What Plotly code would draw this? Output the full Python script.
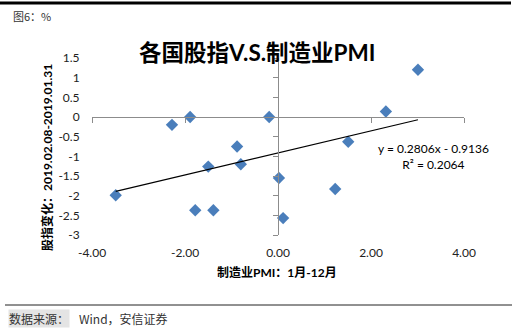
import plotly.graph_objects as go

# ---- data ----
pmi_change = [3.01, 2.32, -0.19, -1.89, -2.28, -0.88, -1.50, -0.80, -3.49, -1.78, -1.39, 0.02, 0.11, 1.23, 1.51]
index_change = [1.20, 0.14, 0.00, 0.00, -0.20, -0.75, -1.26, -1.20, -1.99, -2.37, -2.37, -1.55, -2.57, -1.83, -0.63]
slope = 0.2806
intercept = -0.9136
r_squared = 0.2064

x_tickvals = [-4, -2, 0, 2, 4]
x_ticktext = ["-4.00", "-2.00", "0.00", "2.00", "4.00"]
y_tickvals = [1.5, 1, 0.5, 0, -0.5, -1, -1.5, -2, -2.5, -3]
y_ticktext = ["1.5", "1", "0.5", "0", "-0.5", "-1", "-1.5", "-2", "-2.5", "-3"]

title_text = "各国股指V.S.制造业PMI"
x_title = "制造业PMI：1月-12月"
y_title = "股指变化：2019.02.08-2019.01.31"
fig_label = "图6：%"
source_label = "数据来源："
source_text = "Wind，安信证券"

X_RANGE = [-4, 4]
Y_RANGE = [-3, 1.5]

# ---- layout geometry (pixels) ----
W, H = 518, 329
L, R, T, B = 92, 54, 58, 94
PW, PH = W - L - R, H - T - B


def px_x(p):
    return (p - L) / PW


def px_y(p):
    return (H - B - p) / PH


FONT = "Lato, 'Noto Sans CJK SC', sans-serif"
CJK = "'Noto Sans CJK SC', sans-serif"
AXIS_GRAY = "#8c8c8c"
TXT = "#222222"

fig = go.Figure()

fig.add_trace(go.Scatter(
    x=pmi_change, y=index_change, mode="markers",
    marker=dict(symbol="diamond", size=9.5, color="#4a7ebb", line=dict(width=0)),
    showlegend=False, hoverinfo="skip",
))

x_line = [min(pmi_change), max(pmi_change)]
y_line = [slope * v + intercept for v in x_line]
fig.add_trace(go.Scatter(
    x=x_line, y=y_line, mode="lines", xaxis="x2", yaxis="y2",
    line=dict(color="black", width=1.2), showlegend=False, hoverinfo="skip",
))

y_zero_pos = (0 - Y_RANGE[0]) / (Y_RANGE[1] - Y_RANGE[0])
x_zero_pos = (0 - X_RANGE[0]) / (X_RANGE[1] - X_RANGE[0])

fig.update_layout(
    width=W, height=H,
    margin=dict(l=L, r=R, t=T, b=B, pad=0),
    paper_bgcolor="white", plot_bgcolor="white",
    font=dict(family=FONT, size=12, color=TXT),
    xaxis=dict(range=X_RANGE, tickvals=x_tickvals, ticktext=x_ticktext,
               showline=False, showgrid=False, zeroline=False,
               ticks="outside", ticklen=7, tickcolor="rgba(0,0,0,0)",
               tickfont=dict(size=12, color=TXT, family=FONT)),
    yaxis=dict(range=Y_RANGE, tickvals=y_tickvals, ticktext=y_ticktext,
               showline=False, showgrid=False, zeroline=False,
               ticks="outside", ticklen=9, tickcolor="rgba(0,0,0,0)",
               tickfont=dict(size=12, color=TXT, family=FONT)),
    xaxis2=dict(range=X_RANGE, overlaying="x", anchor="free", position=y_zero_pos,
                side="bottom", tickvals=x_tickvals, showticklabels=False,
                showline=True, linecolor=AXIS_GRAY, linewidth=1,
                ticks="outside", ticklen=5, tickcolor=AXIS_GRAY,
                showgrid=False, zeroline=False),
    yaxis2=dict(range=Y_RANGE, overlaying="y", anchor="free", position=x_zero_pos,
                side="left", tickvals=y_tickvals, showticklabels=False,
                showline=True, linecolor=AXIS_GRAY, linewidth=1,
                ticks="outside", ticklen=5, tickcolor=AXIS_GRAY,
                showgrid=False, zeroline=False),
)

ann = []
# chart title
ann.append(dict(text="<b>" + title_text + "</b>", x=px_x(257), y=px_y(52),
                xref="paper", yref="paper", xanchor="center", yanchor="middle",
                showarrow=False, font=dict(size=22.5, color="black", family=FONT)))
# x-axis title
ann.append(dict(text="<b>" + x_title + "</b>", x=px_x(277), y=px_y(272),
                xref="paper", yref="paper", xanchor="center", yanchor="middle",
                showarrow=False, font=dict(size=12, color="black", family=FONT)))
# y-axis title
ann.append(dict(text="<b>" + y_title + "</b>", x=px_x(47), y=px_y(158),
                xref="paper", yref="paper", xanchor="center", yanchor="middle",
                textangle=-90, showarrow=False,
                font=dict(size=12, color="black", family=FONT)))
# regression equation
ann.append(dict(text="y = %.4fx - %.4f<br>R² = %.4f" % (slope, -intercept, r_squared),
                x=px_x(433), y=px_y(156), xref="paper", yref="paper",
                xanchor="center", yanchor="middle", showarrow=False,
                font=dict(size=12, color="black", family=FONT)))
# figure label
ann.append(dict(text=fig_label, x=px_x(11), y=px_y(16), xref="paper", yref="paper",
                xanchor="left", yanchor="middle", showarrow=False,
                font=dict(size=11, color="#333333", family=CJK)))
# source
ann.append(dict(text=source_label, x=px_x(8), y=px_y(318), xref="paper", yref="paper",
                xanchor="left", yanchor="middle", showarrow=False,
                bgcolor="#e4e4e4", borderpad=0,
                font=dict(size=12, color="#333333", family=CJK)))
ann.append(dict(text=source_text, x=px_x(77), y=px_y(318), xref="paper", yref="paper",
                xanchor="left", yanchor="middle", showarrow=False,
                font=dict(size=12, color="#333333", family=CJK)))
fig.update_layout(annotations=ann)

fig.update_layout(shapes=[
    dict(type="line", xref="paper", yref="paper",
         x0=px_x(0), x1=px_x(511), y0=px_y(3), y1=px_y(3),
         line=dict(color="black", width=3)),
    dict(type="line", xref="paper", yref="paper",
         x0=px_x(5), x1=px_x(512), y0=px_y(305), y1=px_y(305),
         line=dict(color="#222222", width=1)),
])

fig.write_html("out.html")
